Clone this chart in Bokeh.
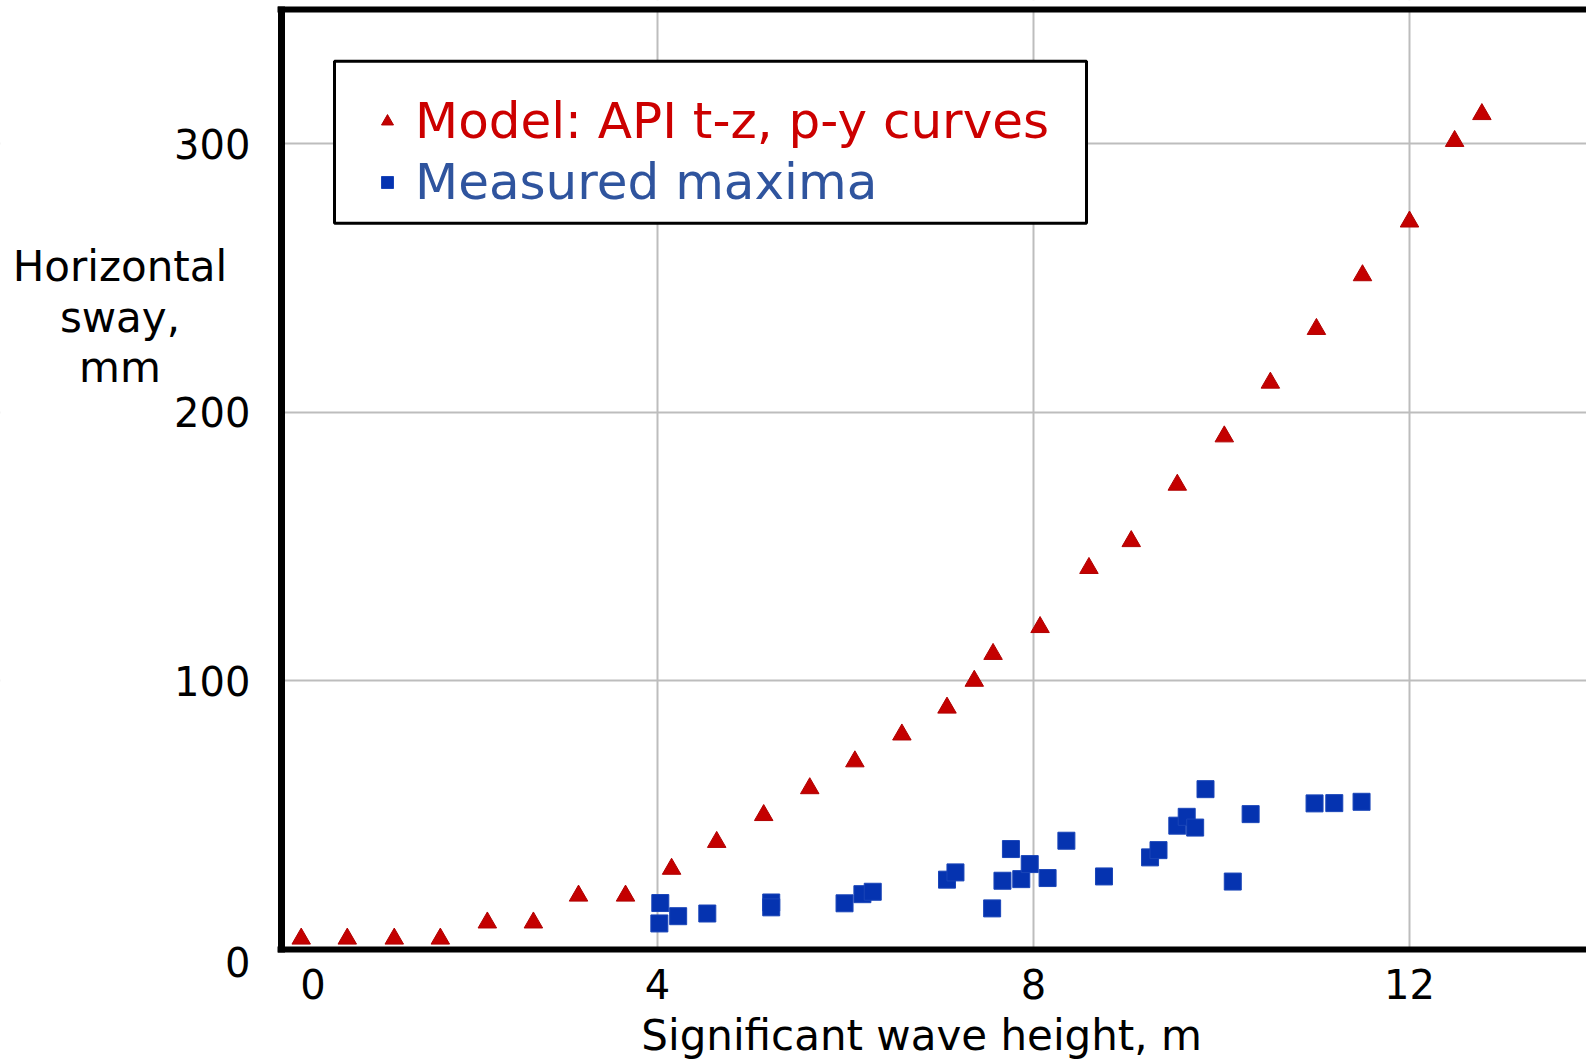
from bokeh.plotting import figure
from bokeh.models import (ColumnDataSource, FixedTicker, Legend, LegendItem,
                          Label, BoxAnnotation, LinearAxis)
from bokeh.embed import file_html
from bokeh.resources import INLINE

# ---- data ----
model_x = [0.21, 0.70, 1.20, 1.69, 2.19, 2.68, 3.16, 3.66, 4.15, 4.63, 5.13,
           5.62, 6.10, 6.60, 7.08, 7.37, 7.57, 8.07, 8.59, 9.04, 9.53, 10.03,
           10.52, 11.01, 11.50, 12.00, 12.48, 12.77]
model_y = [4, 4, 4, 4, 10, 10, 20, 20, 30, 40, 50, 60, 70, 80, 90, 100, 110,
           120, 142, 152, 173, 191, 211, 231, 251, 271, 301, 311]

meas_x = [4.03, 4.02, 4.22, 4.53, 5.21, 5.21, 5.99, 6.18, 6.29, 7.08, 7.17,
          7.56, 7.67, 7.76, 7.87, 7.96, 8.15, 8.35, 8.75, 9.24, 9.33, 9.53,
          9.63, 9.72, 9.83, 10.12, 10.31, 10.99, 11.20, 11.49]
meas_y = [17.3, 9.7, 12.4, 13.4, 17.5, 15.7, 17.2, 20.6, 21.5, 26.0, 28.7,
          15.3, 25.6, 37.4, 26.2, 31.8, 26.6, 40.5, 27.2, 34.3, 37.0, 46.1,
          49.4, 45.4, 59.7, 25.3, 50.4, 54.4, 54.5, 55.0]

x_ticks = [0, 4, 8, 12]
y_ticks = [0, 100, 200, 300]
model_label = "Model: API t-z, p-y curves"
meas_label = "Measured maxima"
x_title = "Significant wave height, m"
y_title = "Horizontal\nsway,\nmm"

FONT = "DejaVu Sans"
XMAX, YMAX = 13.883, 350          # visible data area (right edge open)
X0, X1 = -2.989, XMAX             # frame covers the whole canvas
Y0, Y1 = -42.82, 353.35

p = figure(width=1586, height=1064, x_range=(X0, X1), y_range=(Y0, Y1),
           output_backend="svg", toolbar_location=None,
           min_border_left=0, min_border_right=0, min_border_top=0,
           min_border_bottom=0)
p.outline_line_color = None
p.background_fill_color = "white"
p.border_fill_color = "white"

def style_axis(ax, width):
    ax.axis_line_width = width
    ax.axis_line_color = "black"
    ax.major_tick_out = 0
    ax.major_tick_in = 0
    ax.minor_tick_out = 0
    ax.minor_tick_in = 0
    ax.major_label_text_font = FONT
    ax.major_label_text_font_size = "40px"
    ax.major_label_text_color = "black"

# bottom axis at y = 0; the "0" label sits a little right of the origin in the reference
xa = p.below[0]
x_label_shift = 0.335
xa.ticker = FixedTicker(ticks=[x_label_shift if t == 0 else t for t in x_ticks])
xa.major_label_overrides = {x_label_shift: "0"}
xa.fixed_location = 0
xa.bounds = (-0.04, XMAX)
style_axis(xa, 6)
xa.major_label_standoff = 20

# left axis labels at x = 0; the "0" label sits a little below the origin
ya = p.left[0]
y_label_shift = -4.5
ya.ticker = FixedTicker(ticks=[y_label_shift if t == 0 else t for t in y_ticks])
ya.major_label_overrides = {y_label_shift: "0"}
ya.fixed_location = 0
ya.bounds = (-5, YMAX)
style_axis(ya, 6)
ya.axis_line_color = None
ya.major_label_standoff = 31

# left border line
lb = LinearAxis(ticker=FixedTicker(ticks=[]), fixed_location=0,
                bounds=(-1.2, YMAX + 1.2), major_label_text_font_size="0px")
style_axis(lb, 7)
lb.major_label_text_font_size = "0px"
p.add_layout(lb, "left")

# top border line
tb = LinearAxis(ticker=FixedTicker(ticks=[]), fixed_location=YMAX,
                bounds=(-0.04, XMAX), major_label_text_font_size="0px")
style_axis(tb, 6)
tb.major_label_text_font_size = "0px"
p.add_layout(tb, "above")

# grid
p.xgrid.ticker = FixedTicker(ticks=[t for t in x_ticks if t > 0])
p.ygrid.ticker = FixedTicker(ticks=[t for t in y_ticks if t > 0])
p.xgrid.grid_line_color = "#bdbdbd"
p.ygrid.grid_line_color = "#bdbdbd"
p.xgrid.grid_line_width = 2
p.ygrid.grid_line_width = 2

# white margins outside the data area (hide grid lines there)
for kw in (dict(left=X0 - 1, right=0, bottom=Y0 - 5, top=Y1 + 5),
           dict(left=X0 - 1, right=X1 + 1, bottom=Y0 - 5, top=0),
           dict(left=X0 - 1, right=X1 + 1, bottom=YMAX, top=Y1 + 5)):
    p.add_layout(BoxAnnotation(fill_color="white", fill_alpha=1.0,
                               line_alpha=0, level="underlay", **kw))

# data
src_m = ColumnDataSource(dict(x=model_x, y=model_y))
src_s = ColumnDataSource(dict(x=meas_x, y=meas_y))
r1 = p.scatter(x="x", y="y", source=src_m, marker="triangle", size=18.5,
               fill_color="#c40000", line_color="#b00000", line_width=1)
r2 = p.scatter(x="x", y="y", source=src_s, marker="square", size=17,
               fill_color="#0533b0", line_color="#1a45b8", line_width=1)

# legend box
p.add_layout(BoxAnnotation(left=0.564, right=8.564, top=330.7, bottom=270.4,
                           fill_color="white", fill_alpha=1.0,
                           line_color="black", line_alpha=1.0, line_width=3))

def make_legend(label, rend, color, y_from_bottom):
    return Legend(items=[LegendItem(label=label, renderers=[rend])],
                  location=(372, y_from_bottom), orientation="vertical",
                  padding=0, margin=0, spacing=0, glyph_width=30, glyph_height=30,
                  label_height=56, label_standoff=13, border_line_color=None,
                  background_fill_alpha=0.0,
                  label_text_font=FONT, label_text_font_size="50px",
                  label_text_color=color)

p.add_layout(make_legend(model_label, r1, "#cc0000", 914))
p.add_layout(make_legend(meas_label, r2, "#2f549e", 853))

# axis titles
p.add_layout(Label(x=-1.718, y=235.4, text=y_title, text_align="center",
                   text_baseline="middle", text_font=FONT,
                   text_line_height=1.03,
                   text_font_size="42px", text_color="black"))
p.add_layout(Label(x=6.81, y=-32.0, text=x_title, text_align="center",
                   text_baseline="middle", text_font=FONT,
                   text_line_height=1.0,
                   text_font_size="42px", text_color="black"))

open("out.html", "w").write(file_html(p, INLINE))
